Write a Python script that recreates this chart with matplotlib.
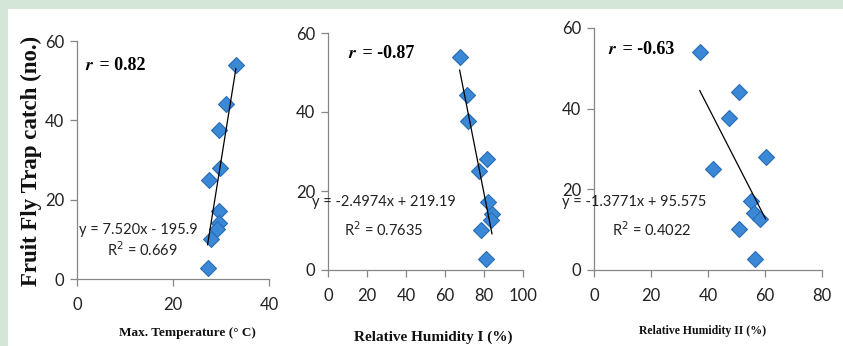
import matplotlib
matplotlib.use("Agg")
import matplotlib.pyplot as plt
import numpy as np
from matplotlib.patches import Rectangle

# ---- data ----
catch = [54.0, 44.2, 37.6, 28.1, 25.0, 17.1, 14.1, 12.6, 10.2, 2.8]
max_temp = [33.1, 31.1, 29.6, 29.8, 27.4, 29.6, 29.6, 29.1, 28.0, 27.2]
rh1 = [67.5, 71.5, 72.0, 81.7, 77.3, 82.1, 84.1, 83.4, 78.3, 81.0]
rh2 = [37.1, 50.8, 47.4, 60.2, 41.8, 55.0, 56.3, 58.2, 50.8, 56.4]

slopes = [7.520, -2.4974, -1.3771]
intercepts = [-195.9, 219.19, 95.575]
eq_labels = ["y = 7.520x - 195.9", "y = -2.4974x + 219.19", "y = -1.3771x + 95.575"]
r2_labels = ["R$^2$ = 0.669", "R$^2$ = 0.7635", "R$^2$ = 0.4022"]
r_values = ["0.82", "-0.87", "-0.63"]
xlabels = ["Max. Temperature (\u00b0 C)", "Relative Humidity I (%)", "Relative Humidity II (%)"]
ylabel = "Fruit Fly Trap catch (no.)"
xlims = [40, 100, 80]
xticks = [[0, 20, 40], [0, 20, 40, 60, 80, 100], [0, 20, 40, 60, 80]]
yticks = [0, 20, 40, 60]

W, H = 843, 346
fig = plt.figure(figsize=(W / 100, H / 100), dpi=100)
fig.patch.set_facecolor("#d3e6d7")
bg = Rectangle((8 / W, 0), 1 - 8 / W, 1 - 9 / H, transform=fig.transFigure,
               facecolor="white", edgecolor="none", zorder=-10)
fig.patches.append(bg)

def px(x, y):
    return x / W, 1 - y / H

# axes boxes in pixels: left, right, top(60), bottom(0)
boxes = [(77, 269, 41, 279), (328, 523, 33, 270), (594, 822, 28, 270)]
sans = "Lato"
serif = "Liberation Serif"
xs_all = [max_temp, rh1, rh2]
grey = "#868686"

for i, (l, r, t, b) in enumerate(boxes):
    ax = fig.add_axes([l / W, 1 - b / H, (r - l) / W, (b - t) / H], zorder=1)
    ax.set_facecolor("none")
    xs = np.array(xs_all[i])
    ax.scatter(xs, catch, marker="D", s=66, facecolor="#3a88d6", edgecolor="#2a6db3",
               linewidth=0.8, zorder=3, clip_on=False)
    xx = np.array([xs.min(), xs.max()])
    ax.plot(xx, slopes[i] * xx + intercepts[i], color="black", lw=0.9, zorder=4)
    ax.set_xlim(0, xlims[i])
    ax.set_ylim(0, 60)
    ax.set_xticks(xticks[i])
    ax.set_yticks(yticks)
    for s in ["top", "right"]:
        ax.spines[s].set_visible(False)
    for s in ["left", "bottom"]:
        ax.spines[s].set_color(grey)
        ax.spines[s].set_linewidth(0.9)
    ax.tick_params(direction="out", length=5, width=0.9, color=grey, labelsize=12,
                   labelcolor="#222222", pad=4)
    ax.tick_params(axis="x", pad=8)
    for lab in ax.get_xticklabels() + ax.get_yticklabels():
        lab.set_fontfamily(sans)

# r labels
r_pos = [(85, 65), (348, 53), (608, 50)]
for (x, y), rv in zip(r_pos, r_values):
    fig.text(*px(x, y), r"$\boldsymbol{r}$", fontsize=13, va="center", ha="left",
             fontfamily=serif, math_fontfamily="stix", zorder=5)
    fig.text(*px(x + 10, y), " = " + rv, fontsize=13, va="center", ha="left",
             fontfamily=serif, fontweight="bold", zorder=5)

# equations
eq_pos = [(79, 230), (312, 202), (562, 202)]
r2_pos = [(107, 250), (344, 230), (612, 230)]
for (x, y), s in zip(eq_pos, eq_labels):
    fig.text(*px(x, y), s, fontsize=10.5, va="center", ha="left", fontfamily=sans,
             color="#222222", zorder=5)
for (x, y), s in zip(r2_pos, r2_labels):
    fig.text(*px(x, y), s, fontsize=10.5, va="center", ha="left", fontfamily=sans,
             color="#222222", zorder=5)

# x labels
xl_pos = [(187, 333, 9.5), (433, 337, 11), (703, 331, 8.5)]
for (x, y, fs), s in zip(xl_pos, xlabels):
    fig.text(*px(x, y), s, fontsize=fs, va="center", ha="center", fontfamily=serif,
             fontweight="bold", color="#111111")

# y label
fig.text(*px(31, 161), ylabel, fontsize=16.5, rotation=90, va="center", ha="center",
         fontfamily=serif, fontweight="bold", color="#111111")

fig.savefig("out.png", dpi=100, facecolor=fig.get_facecolor())
